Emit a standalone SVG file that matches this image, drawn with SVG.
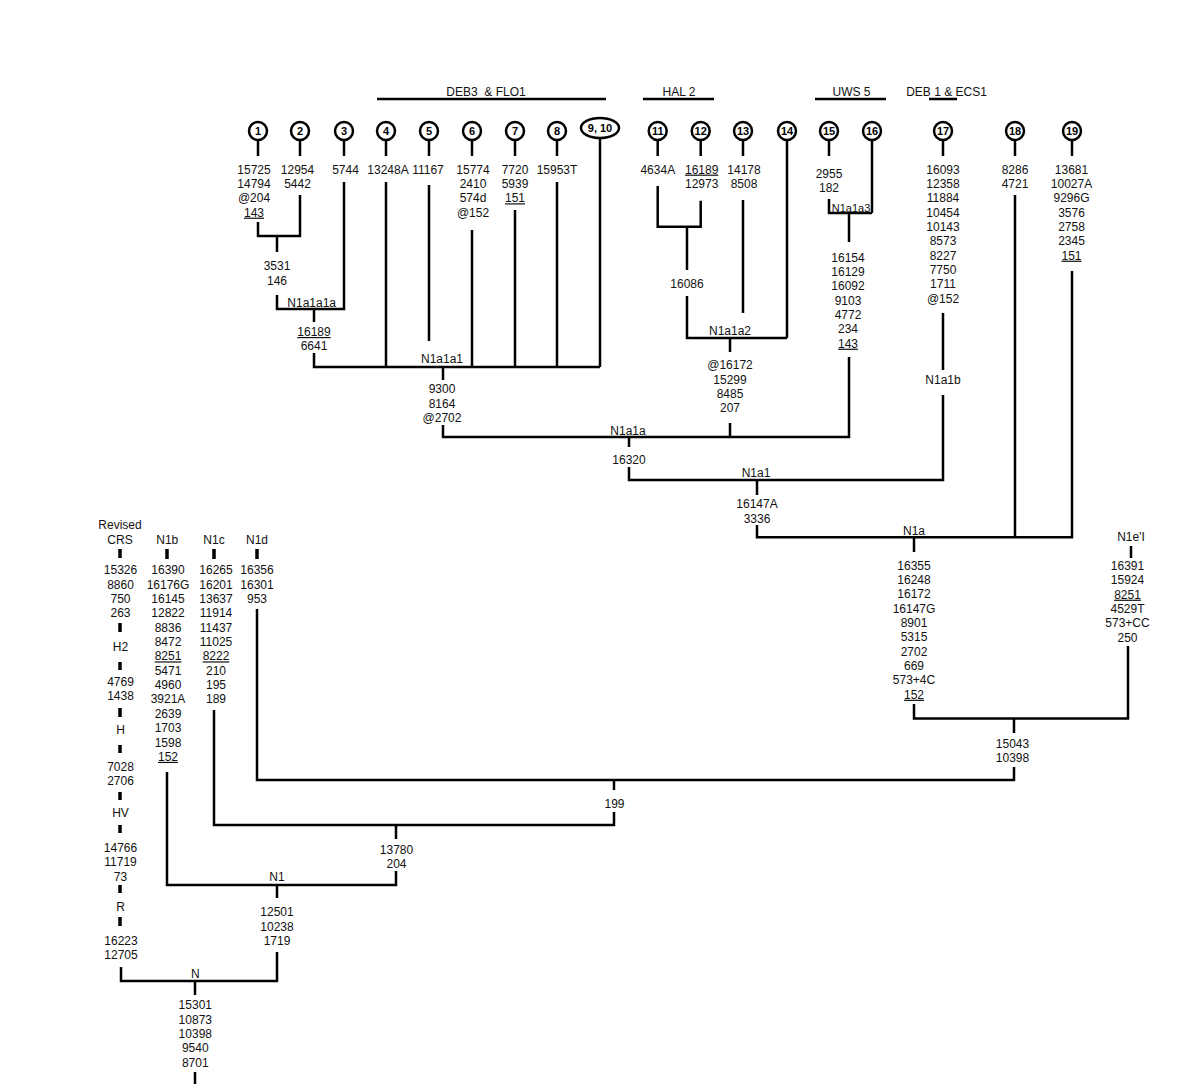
<svg xmlns="http://www.w3.org/2000/svg" width="1200" height="1084" viewBox="0 0 1200 1084">
<style>
text{font-family:"Liberation Sans",Arial,sans-serif;font-size:12px;fill:#111;text-anchor:middle}
.u{text-decoration:underline}
.num{font-weight:bold;font-size:11px;fill:#000}
.lbl{font-size:12px}
.sm{font-size:11px}
.ttl{white-space:pre}
.ring{fill:#fff;stroke:#000;stroke-width:2.5}
#connectors path{fill:none;stroke:#000;stroke-width:2.5;stroke-linejoin:miter;stroke-linecap:butt}
#connectors .bar{stroke-width:3.5}
</style>
<rect width="1200" height="1084" fill="#fff"/>

<g id="titles">
<text class="ttl" x="486" y="96">DEB3  &amp; FLO1</text>
<text x="679" y="96">HAL 2</text>
<text x="851.5" y="96">UWS 5</text>
<text x="946.5" y="96">DEB 1 &amp; ECS1</text>
</g>

<g id="connectors">
<path d="M377,99H606M643,99H714M815,99H886M929,99H957"/>
<path d="M258,140V156M300,140V156M344,140V156M386,140V156M429,140V156M472,140V156M515,140V156M557,140V156M657.7,140V156M700.7,140V156M743,140V156M829,140V156M943,140V156M1015,140V156M1072,140V156"/>
<path d="M600,139V367M787,141V338M872,141V213"/>
<path d="M258,222V236H300V195"/>
<path d="M277,236V252"/>
<path d="M277,295V309H344V182"/>
<path d="M314,309V322"/>
<path d="M314,353V367H600"/>
<path d="M386,182V367M429,185V341M472,230V367M515,210V367M557,182V367"/>
<path d="M443,367V380"/>
<path d="M443,425V437H849V357"/>
<path d="M657.7,186V226.7H700.7V200.7"/>
<path d="M687,226.7V270"/>
<path d="M687,296V338H787"/>
<path d="M743,200V313"/>
<path d="M730,338V352"/>
<path d="M730,423V437"/>
<path d="M829,199V213H872"/>
<path d="M849,213V242"/>
<path d="M629,437V447"/>
<path d="M629,467V480H943V395"/>
<path d="M943,313V370"/>
<path d="M757,480V495"/>
<path d="M757,525V537.3H1072V271"/>
<path d="M1015,195V537.3"/>
<path d="M914,537.3V552"/>
<path d="M914,704V718.5H1128V646"/>
<path d="M1131,546V558"/>
<path d="M1014,718.5V733"/>
<path d="M1014,767V780H257V609"/>
<path d="M614,780V790"/>
<path d="M614,812V825H214V710"/>
<path d="M396,825V839"/>
<path d="M396,871V885H167V772"/>
<path d="M277,885V898"/>
<path d="M277,952V981H121V967"/>
<path d="M195,981V995"/>
<path d="M195,1072V1084"/>
<path class="bar" d="M120,549V558M120,623V632M120,662V670M120,708V717M120,745V753M120,792V800M120,825V833M120,885V893M120,917V926M167,549V559M214,549V559M257,549V559"/>
</g>

<g id="n1"><circle class="ring" cx="258" cy="131" r="9"/><text class="num" x="258" y="135">1</text>
<text x="254" y="173.6">15725<tspan x="254" dy="14.35">14794</tspan><tspan x="254" dy="14.35">@204</tspan><tspan x="254" dy="14.35" class="u">143</tspan></text></g>
<g id="n2"><circle class="ring" cx="300" cy="131" r="9"/><text class="num" x="300" y="135">2</text>
<text x="297.5" y="173.6">12954<tspan x="297.5" dy="14.35">5442</tspan></text></g>
<g id="n3"><circle class="ring" cx="344" cy="131" r="9"/><text class="num" x="344" y="135">3</text>
<text x="345.5" y="173.6">5744</text></g>
<g id="n4"><circle class="ring" cx="386" cy="131" r="9"/><text class="num" x="386" y="135">4</text>
<text x="388" y="173.6">13248A</text></g>
<g id="n5"><circle class="ring" cx="429" cy="131" r="9"/><text class="num" x="429" y="135">5</text>
<text x="428" y="173.6">11167</text></g>
<g id="n6"><circle class="ring" cx="472" cy="131" r="9"/><text class="num" x="472" y="135">6</text>
<text x="473" y="173.6">15774<tspan x="473" dy="14.35">2410</tspan><tspan x="473" dy="14.35">574d</tspan><tspan x="473" dy="14.35">@152</tspan></text></g>
<g id="n7"><circle class="ring" cx="515" cy="131" r="9"/><text class="num" x="515" y="135">7</text>
<text x="515" y="173.6">7720<tspan x="515" dy="14.35">5939</tspan><tspan x="515" dy="14.35" class="u">151</tspan></text></g>
<g id="n8"><circle class="ring" cx="557" cy="131" r="9"/><text class="num" x="557" y="135">8</text>
<text x="557" y="173.6">15953T</text></g>
<g id="n9-10"><ellipse class="ring" cx="600" cy="128" rx="19" ry="10"/><text class="num" x="600" y="132">9, 10</text></g>
<g id="n11"><circle class="ring" cx="657.7" cy="131" r="9"/><text class="num" x="657.7" y="135">11</text>
<text x="657.8" y="173.6">4634A</text></g>
<g id="n12"><circle class="ring" cx="700.7" cy="131" r="9"/><text class="num" x="700.7" y="135">12</text>
<text x="701.7" y="173.6"><tspan class="u">16189</tspan><tspan x="701.7" dy="14.35">12973</tspan></text></g>
<g id="n13"><circle class="ring" cx="743" cy="131" r="9"/><text class="num" x="743" y="135">13</text>
<text x="744" y="173.6">14178<tspan x="744" dy="14.35">8508</tspan></text></g>
<g id="n14"><circle class="ring" cx="787" cy="131" r="9"/><text class="num" x="787" y="135">14</text></g>
<g id="n15"><circle class="ring" cx="829" cy="131" r="9"/><text class="num" x="829" y="135">15</text>
<text x="829" y="178.3">2955<tspan x="829" dy="13.2">182</tspan></text></g>
<g id="n16"><circle class="ring" cx="872" cy="131" r="9"/><text class="num" x="872" y="135">16</text></g>
<g id="n17"><circle class="ring" cx="943" cy="131" r="9"/><text class="num" x="943" y="135">17</text>
<text x="943" y="173.6">16093<tspan x="943" dy="14.35">12358</tspan><tspan x="943" dy="14.35">11884</tspan><tspan x="943" dy="14.35">10454</tspan><tspan x="943" dy="14.35">10143</tspan><tspan x="943" dy="14.35">8573</tspan><tspan x="943" dy="14.35">8227</tspan><tspan x="943" dy="14.35">7750</tspan><tspan x="943" dy="14.35">1711</tspan><tspan x="943" dy="14.35">@152</tspan></text></g>
<g id="n18"><circle class="ring" cx="1015" cy="131" r="9"/><text class="num" x="1015" y="135">18</text>
<text x="1015" y="173.6">8286<tspan x="1015" dy="14.35">4721</tspan></text></g>
<g id="n19"><circle class="ring" cx="1072" cy="131" r="9"/><text class="num" x="1072" y="135">19</text>
<text x="1071.5" y="173.6">13681<tspan x="1071.5" dy="14.35">10027A</tspan><tspan x="1071.5" dy="14.35">9296G</tspan><tspan x="1071.5" dy="14.35">3576</tspan><tspan x="1071.5" dy="14.35">2758</tspan><tspan x="1071.5" dy="14.35">2345</tspan><tspan x="1071.5" dy="14.35" class="u">151</tspan></text></g>

<g id="n1-2"><text x="277" y="270.3">3531<tspan x="277" dy="14.35">146</tspan></text></g>
<g id="N1a1a1a"><text x="311.7" y="307">N1a1a1a</text>
<text x="314" y="336"><tspan class="u">16189</tspan><tspan x="314" dy="14.35">6641</tspan></text></g>
<g id="N1a1a1"><text x="442" y="362.5">N1a1a1</text>
<text x="442" y="393.3">9300<tspan x="442" dy="14.35">8164</tspan><tspan x="442" dy="14.35">@2702</tspan></text></g>
<g id="n11-12"><text x="687" y="287.6">16086</text></g>
<g id="N1a1a2"><text x="730" y="335">N1a1a2</text>
<text x="730" y="369.3">@16172<tspan x="730" dy="14.35">15299</tspan><tspan x="730" dy="14.35">8485</tspan><tspan x="730" dy="14.35">207</tspan></text></g>
<g id="N1a1a3"><text class="sm" x="851" y="211.5">N1a1a3</text>
<text x="848" y="261.6">16154<tspan x="848" dy="14.35">16129</tspan><tspan x="848" dy="14.35">16092</tspan><tspan x="848" dy="14.35">9103</tspan><tspan x="848" dy="14.35">4772</tspan><tspan x="848" dy="14.35">234</tspan><tspan x="848" dy="14.35" class="u">143</tspan></text></g>
<g id="N1a1a"><text x="628" y="435">N1a1a</text><text x="629" y="464.3">16320</text></g>
<g id="N1a1b"><text x="943" y="384.3">N1a1b</text></g>
<g id="N1a1"><text x="756" y="477">N1a1</text>
<text x="757" y="508.3">16147A<tspan x="757" dy="14.35">3336</tspan></text></g>
<g id="N1a"><text x="914" y="534.5">N1a</text>
<text x="914" y="569.6">16355<tspan x="914" dy="14.35">16248</tspan><tspan x="914" dy="14.35">16172</tspan><tspan x="914" dy="14.35">16147G</tspan><tspan x="914" dy="14.35">8901</tspan><tspan x="914" dy="14.35">5315</tspan><tspan x="914" dy="14.35">2702</tspan><tspan x="914" dy="14.35">669</tspan><tspan x="914" dy="14.35">573+4C</tspan><tspan x="914" dy="14.35" class="u">152</tspan></text></g>
<g id="N1eI"><text x="1131" y="541">N1e'I</text>
<text x="1127.5" y="570">16391<tspan x="1127.5" dy="14.35">15924</tspan><tspan x="1127.5" dy="14.35" class="u">8251</tspan><tspan x="1127.5" dy="14.35">4529T</tspan><tspan x="1127.5" dy="14.35">573+CC</tspan><tspan x="1127.5" dy="14.35">250</tspan></text></g>
<g id="n1a-1eI"><text x="1012.5" y="747.6">15043<tspan x="1012.5" dy="14.35">10398</tspan></text></g>
<g id="n199"><text x="614.5" y="807.6">199</text></g>
<g id="n13780"><text x="396.5" y="853.6">13780<tspan x="396.5" dy="14.35">204</tspan></text></g>
<g id="N1"><text x="277" y="881">N1</text>
<text x="277" y="916.3">12501<tspan x="277" dy="14.35">10238</tspan><tspan x="277" dy="14.35">1719</tspan></text></g>
<g id="N"><text x="195.3" y="978">N</text>
<text x="195.3" y="1009.3">15301<tspan x="195.3" dy="14.35">10873</tspan><tspan x="195.3" dy="14.35">10398</tspan><tspan x="195.3" dy="14.35">9540</tspan><tspan x="195.3" dy="14.35">8701</tspan></text></g>

<g id="rCRS">
<text x="120" y="529.3">Revised<tspan x="120" dy="15">CRS</tspan></text>
<text x="120.5" y="574.3">15326<tspan x="120.5" dy="14.35">8860</tspan><tspan x="120.5" dy="14.35">750</tspan><tspan x="120.5" dy="14.35">263</tspan></text>
<text x="120.5" y="651">H2</text>
<text x="120.5" y="686">4769<tspan x="120.5" dy="14.35">1438</tspan></text>
<text x="120.5" y="734.3">H</text>
<text x="120.5" y="771">7028<tspan x="120.5" dy="14">2706</tspan></text>
<text x="120.5" y="817">HV</text>
<text x="120.5" y="852">14766<tspan x="120.5" dy="14.35">11719</tspan><tspan x="120.5" dy="14.35">73</tspan></text>
<text x="120.5" y="911">R</text>
<text x="121" y="945">16223<tspan x="121" dy="14.35">12705</tspan></text>
</g>
<g id="N1b"><text x="167.3" y="544.3">N1b</text>
<text x="168" y="574.3">16390<tspan x="168" dy="14.35">16176G</tspan><tspan x="168" dy="14.35">16145</tspan><tspan x="168" dy="14.35">12822</tspan><tspan x="168" dy="14.35">8836</tspan><tspan x="168" dy="14.35">8472</tspan><tspan x="168" dy="14.35" class="u">8251</tspan><tspan x="168" dy="14.35">5471</tspan><tspan x="168" dy="14.35">4960</tspan><tspan x="168" dy="14.35">3921A</tspan><tspan x="168" dy="14.35">2639</tspan><tspan x="168" dy="14.35">1703</tspan><tspan x="168" dy="14.35">1598</tspan><tspan x="168" dy="14.35" class="u">152</tspan></text></g>
<g id="N1c"><text x="214" y="544.3">N1c</text>
<text x="216" y="574.3">16265<tspan x="216" dy="14.35">16201</tspan><tspan x="216" dy="14.35">13637</tspan><tspan x="216" dy="14.35">11914</tspan><tspan x="216" dy="14.35">11437</tspan><tspan x="216" dy="14.35">11025</tspan><tspan x="216" dy="14.35" class="u">8222</tspan><tspan x="216" dy="14.35">210</tspan><tspan x="216" dy="14.35">195</tspan><tspan x="216" dy="14.35">189</tspan></text></g>
<g id="N1d"><text x="257" y="544.3">N1d</text>
<text x="257" y="574.3">16356<tspan x="257" dy="14.35">16301</tspan><tspan x="257" dy="14.35">953</tspan></text></g>
</svg>
